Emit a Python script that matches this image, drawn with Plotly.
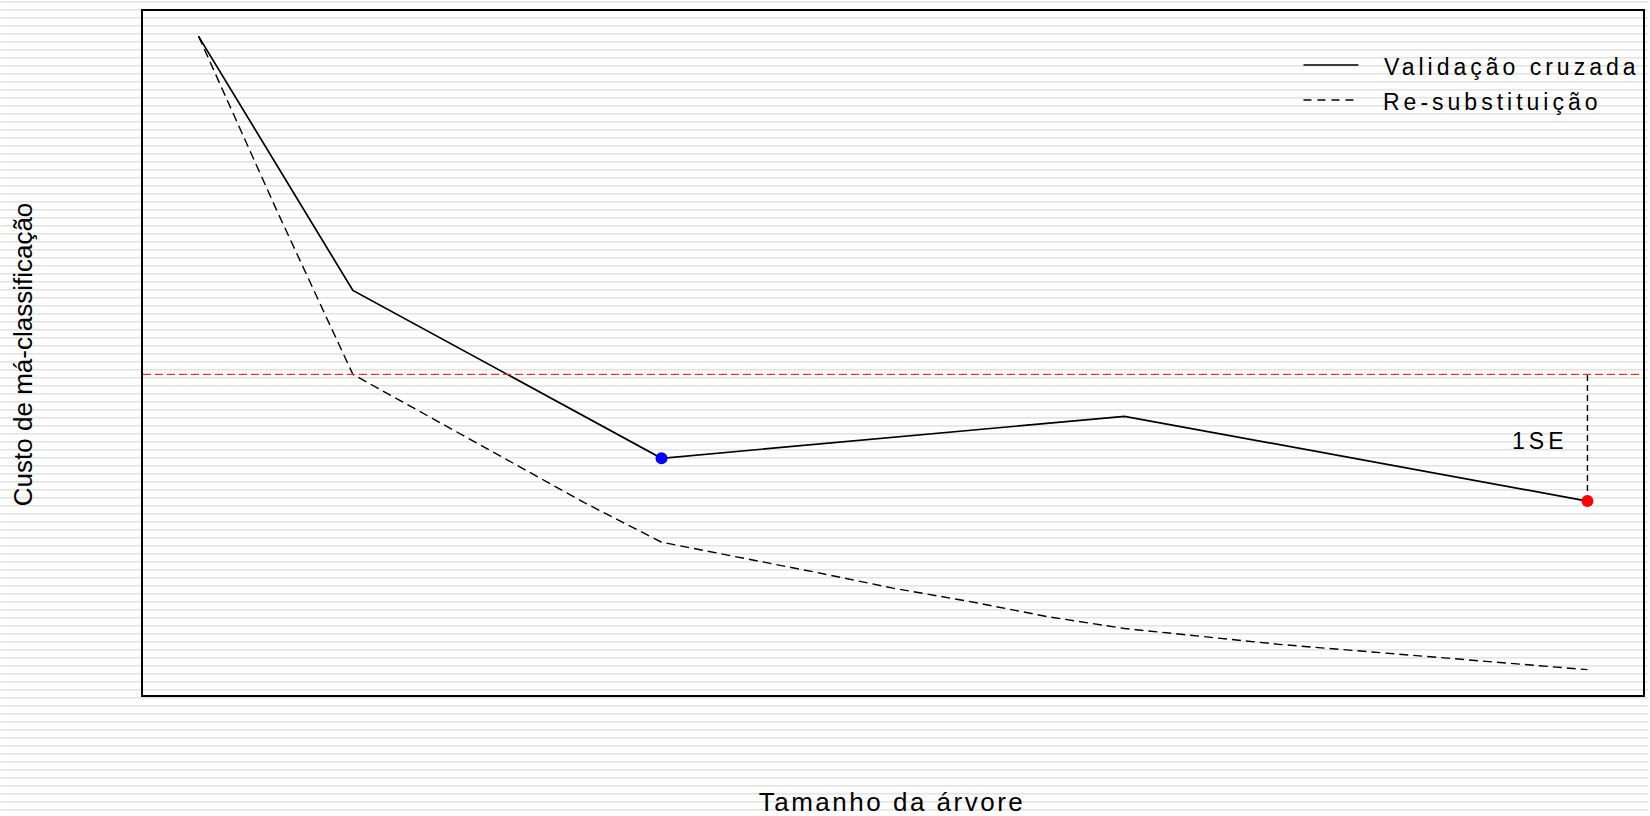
import json
import plotly.graph_objects as go

# Misclassification cost by tree size
tree_size = list(range(1, 20))
resub_cost = [1.000, 0.783, 0.573, 0.519, 0.464, 0.411, 0.361, 0.342, 0.323, 0.303,
              0.286, 0.267, 0.252, 0.242, 0.232, 0.224, 0.216, 0.208, 0.200]
cv_size = [1, 3, 7, 13, 19]
cv_cost = [1.000, 0.679, 0.467, 0.520, 0.413]
cv_se = 0.160

series_names = ["Validação cruzada", "Re-substituição"]
x_title = "Tamanho da árvore"
y_title = "Custo de má-classificação"
se_label = "1SE"

# 1-SE rule: minimum CV cost plus one standard error
i_min = min(range(len(cv_cost)), key=lambda i: cv_cost[i])
threshold = cv_cost[i_min] + cv_se
i_best = next(i for i, c in enumerate(cv_cost) if c <= threshold)

W, H = 1650, 816
L, R, T, B = 143, 5, 11, 121
PW, PH = W - L - R, H - T - B


def px_x(px):
    return (px - L) / PW


def px_y(py):
    return (T + PH - py) / PH


FONT = "Liberation Sans, Arial, Helvetica, sans-serif"
DASH = "9px,5px"

fig = go.Figure()
fig.add_trace(go.Scatter(x=tree_size, y=resub_cost, mode="lines", name=series_names[1],
                         line=dict(color="black", width=1.4, dash=DASH)))
fig.add_trace(go.Scatter(x=cv_size, y=cv_cost, mode="lines", name=series_names[0],
                         line=dict(color="black", width=1.7)))
fig.add_trace(go.Scatter(x=[cv_size[i_min], cv_size[i_min]], y=[cv_cost[i_min], threshold],
                         mode="lines", line=dict(color="black", width=1.4, dash="6px,4px")))
fig.add_trace(go.Scatter(x=[cv_size[i_best]], y=[cv_cost[i_best]], mode="markers",
                         marker=dict(color="blue", size=12, line=dict(width=0))))
fig.add_trace(go.Scatter(x=[cv_size[i_min]], y=[cv_cost[i_min]], mode="markers",
                         marker=dict(color="red", size=12, line=dict(width=0))))

shapes = []
# faint horizontal banding across the page
for color, off in (("#e3e3e3", 1), ("#eeeeee", 2)):
    parts = []
    for r in range(off, H, 8):
        y0, y1 = px_y(r), px_y(r + 1)
        x0, x1 = px_x(0), px_x(W)
        parts.append(f"M{x0:.5f},{y0:.6f}L{x1:.5f},{y0:.6f}L{x1:.5f},{y1:.6f}L{x0:.5f},{y1:.6f}Z")
    shapes.append(dict(type="path", xref="paper", yref="paper", path="".join(parts),
                       fillcolor=color, line=dict(width=0), layer="below"))

# 1-SE threshold line
shapes.append(dict(type="line", xref="paper", yref="y", x0=0, x1=1, y0=threshold, y1=threshold,
                   line=dict(color="#ff3030", width=1.4, dash="8px,4px")))

# legend keys
legend_rows = [(series_names[0], "solid", 65, 1513.5), (series_names[1], "8px,6px", 100, 1494)]
annotations = []
for name, dash, py, cx in legend_rows:
    shapes.append(dict(type="line", xref="paper", yref="paper", x0=px_x(1305), x1=px_x(1360),
                       y0=px_y(py), y1=px_y(py), line=dict(color="black", width=1.3, dash=dash)))
    annotations.append(dict(xref="paper", yref="paper", x=px_x(cx), y=px_y(py + 2), text=name,
                            showarrow=False, xanchor="center", yanchor="middle",
                            font=dict(family=FONT, size=23, color="black")))

annotations.append(dict(xref="x", yref="y", x=cv_size[i_min], y=(threshold + cv_cost[i_min]) / 2,
                        text=se_label, showarrow=False, xanchor="right", yanchor="middle",
                        xshift=-24, yshift=-3, font=dict(family=FONT, size=23, color="black")))
annotations.append(dict(xref="paper", yref="paper", x=px_x(893), y=px_y(802), text=x_title,
                        showarrow=False, xanchor="center", yanchor="middle",
                        font=dict(family=FONT, size=26, color="black")))
annotations.append(dict(xref="paper", yref="paper", x=px_x(23), y=px_y(355), text=y_title,
                        showarrow=False, xanchor="center", yanchor="middle", textangle=-90,
                        font=dict(family=FONT, size=26, color="black")))

axis_common = dict(showgrid=False, zeroline=False, showticklabels=False, ticks="",
                   showline=True, linecolor="black", linewidth=1.5, mirror=True)

fig.update_layout(
    width=W, height=H,
    margin=dict(l=L, r=R, t=T, b=B, pad=0),
    paper_bgcolor="white", plot_bgcolor="rgba(0,0,0,0)",
    showlegend=False,
    xaxis=dict(range=[0.28, 19.72], **axis_common),
    yaxis=dict(range=[0.168, 1.032], **axis_common),
    shapes=shapes, annotations=annotations,
)

spacing = {series_names[0]: 4, series_names[1]: 4, se_label: 4, x_title: 2.5}
post = ("var sp = %s; document.querySelectorAll('.annotation-text').forEach(function(t){"
        "var v = sp[t.textContent]; if (v) { t.style.letterSpacing = v + 'px'; }});"
        % json.dumps(spacing))

fig.write_html("out.html", post_script=post)
